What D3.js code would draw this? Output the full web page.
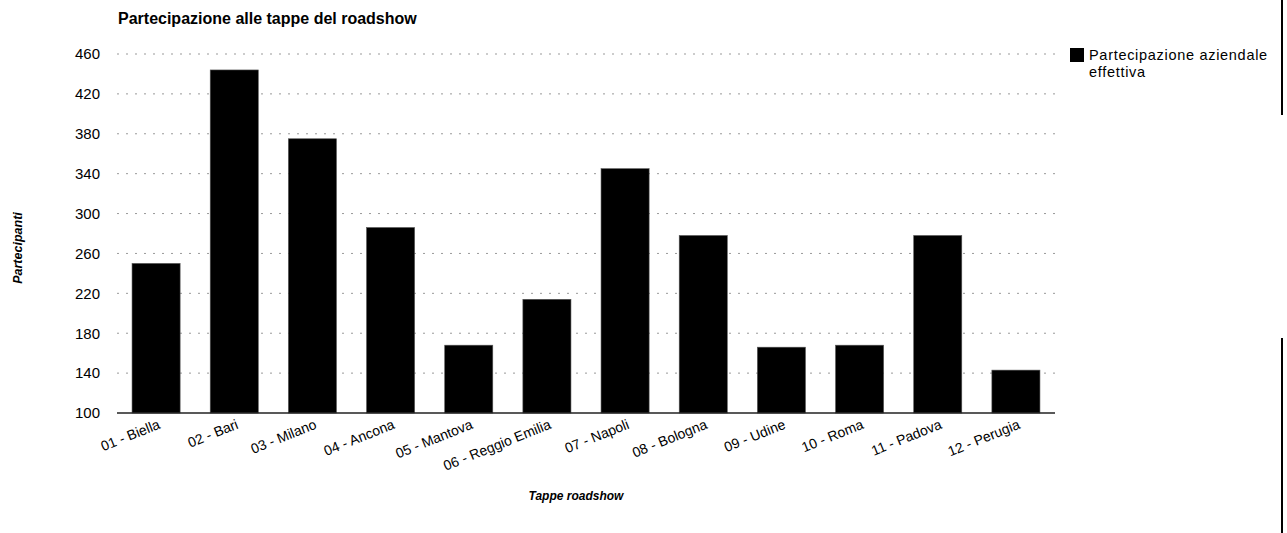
<!DOCTYPE html>
<html>
<head>
<meta charset="utf-8">
<script src="https://cdn.jsdelivr.net/npm/d3@7"></script>
<style>
  body { margin: 0; background: #fff; }
  text { font-family: "Liberation Sans", Arial, sans-serif; fill: #000; }
</style>
</head>
<body>
<div class="chart"></div>
<script>
// data
var tappe = ["01 - Biella", "02 - Bari", "03 - Milano", "04 - Ancona", "05 - Mantova",
  "06 - Reggio Emilia", "07 - Napoli", "08 - Bologna", "09 - Udine", "10 - Roma",
  "11 - Padova", "12 - Perugia"];
var partecipanti = [250, 444, 375, 286, 168, 214, 345, 278, 166, 168, 278, 143];
var yTicks = [100, 140, 180, 220, 260, 300, 340, 380, 420, 460];
var legendLines = ["Partecipazione aziendale", "effettiva"];

var svgWidth = 1287;
var svgHeight = 533;

var margin = { top: 54, right: 232, bottom: 120, left: 117 };
var width = svgWidth - margin.left - margin.right;
var height = svgHeight - margin.top - margin.bottom;

var svg = d3.select(".chart")
  .append("svg")
  .attr("width", svgWidth)
  .attr("height", svgHeight);

var chartGroup = svg.append("g")
  .attr("transform", `translate(${margin.left}, ${margin.top})`);

// scales
var xBandScale = d3.scaleBand()
  .domain(tappe)
  .range([0, width])
  .paddingInner(0.385)
  .paddingOuter(0.1925);

var yLinearScale = d3.scaleLinear()
  .domain([100, 460])
  .range([height, 0]);

// dotted grid
chartGroup.append("g")
  .selectAll("line")
  .data(yTicks.slice(1))
  .enter()
  .append("line")
  .attr("x1", 0)
  .attr("x2", width)
  .attr("y1", d => yLinearScale(d))
  .attr("y2", d => yLinearScale(d))
  .attr("stroke", "#999")
  .attr("stroke-width", 1)
  .attr("stroke-dasharray", "2,7");

// y axis labels (no axis line)
var leftAxis = d3.axisLeft(yLinearScale).tickValues(yTicks).tickSize(0).tickPadding(17);
var yAxisG = chartGroup.append("g").call(leftAxis);
yAxisG.select(".domain").remove();
yAxisG.selectAll("text")
  .style("font-size", "15px")
  .style("font-family", "'Liberation Sans', Arial, sans-serif");

// bars
chartGroup.selectAll(".bar")
  .data(partecipanti)
  .enter()
  .append("rect")
  .attr("class", "bar")
  .attr("x", (d, i) => xBandScale(tappe[i]))
  .attr("y", d => yLinearScale(d))
  .attr("width", xBandScale.bandwidth())
  .attr("height", d => height - yLinearScale(d))
  .attr("fill", "#000")
  .attr("stroke", "#555")
  .attr("stroke-width", 0.6);

// baseline
chartGroup.append("line")
  .attr("x1", 0)
  .attr("x2", width)
  .attr("y1", height)
  .attr("y2", height)
  .attr("stroke", "#222")
  .attr("stroke-width", 1.5);

// x labels, rotated
var bottomAxis = d3.axisBottom(xBandScale).tickSize(0).tickPadding(0);
var xAxisG = chartGroup.append("g")
  .attr("transform", `translate(0, ${height})`)
  .call(bottomAxis);
xAxisG.select(".domain").remove();
xAxisG.selectAll("text")
  .style("font-size", "14px")
  .style("font-family", "'Liberation Sans', Arial, sans-serif")
  .attr("text-anchor", "end")
  .attr("dy", null)
  .attr("y", 0)
  .attr("transform", "translate(5, 15) rotate(-22)");

// title
svg.append("text")
  .attr("x", 118)
  .attr("y", 24)
  .style("font-size", "16px")
  .style("font-weight", "bold")
  .text("Partecipazione alle tappe del roadshow");

// axis titles
svg.append("text")
  .attr("transform", "translate(22, 248) rotate(-90)")
  .attr("text-anchor", "middle")
  .style("font-size", "12.5px")
  .style("font-weight", "bold")
  .style("font-style", "italic")
  .text("Partecipanti");

svg.append("text")
  .attr("x", 576)
  .attr("y", 500)
  .attr("text-anchor", "middle")
  .style("font-size", "12px")
  .style("font-weight", "bold")
  .style("font-style", "italic")
  .text("Tappe roadshow");

// legend
var legend = svg.append("g").attr("transform", "translate(1070, 48)");
legend.append("rect")
  .attr("width", 14)
  .attr("height", 14)
  .attr("fill", "#000");
legend.selectAll("text")
  .data(legendLines)
  .enter()
  .append("text")
  .attr("x", 19)
  .attr("y", (d, i) => 12 + i * 17)
  .style("font-size", "14.5px")
  .style("letter-spacing", "0.7px")
  .text(d => d);

// page edge line on the right
svg.append("line")
  .attr("x1", 1282).attr("x2", 1282)
  .attr("y1", 0).attr("y2", 115)
  .attr("stroke", "#000").attr("stroke-width", 2);
svg.append("line")
  .attr("x1", 1282).attr("x2", 1282)
  .attr("y1", 338).attr("y2", 533)
  .attr("stroke", "#000").attr("stroke-width", 2);
</script>
</body>
</html>
